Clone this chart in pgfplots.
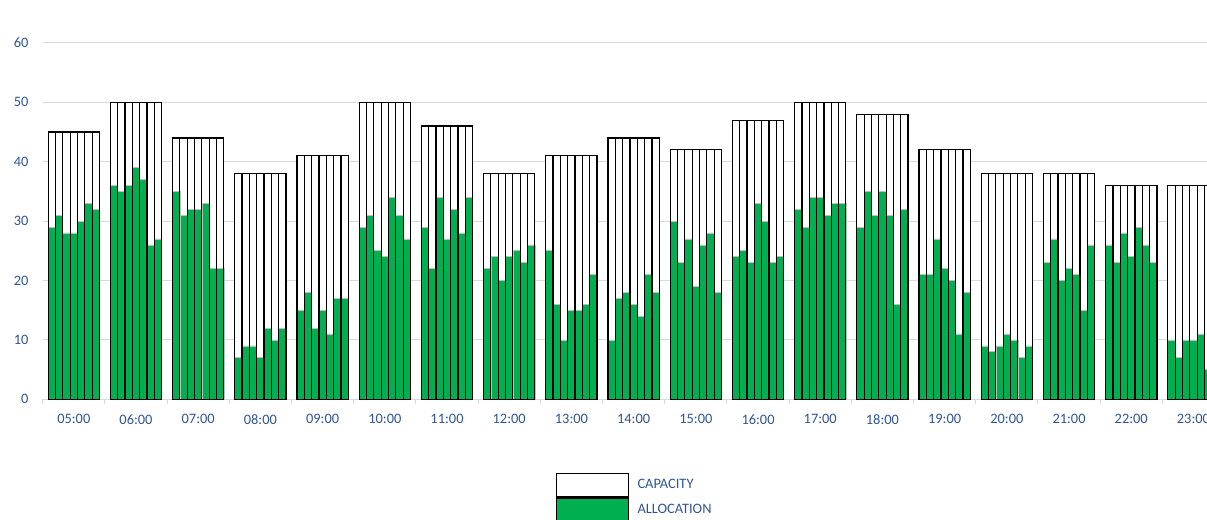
\documentclass[border=0pt]{standalone}
\usepackage{fontspec}
\setmainfont{Carlito}
\usepackage{pgfplots}
\pgfplotsset{compat=1.18}
\usepackage{pgfplotstable}
\definecolor{allocgreen}{HTML}{00B050}
\definecolor{gridgrey}{HTML}{D9D9D9}
\definecolor{labelblue}{HTML}{2F5597}

\pgfplotstableread{
h  cap a0 a1 a2 a3 a4 a5 a6
0  45  29 31 28 28 30 33 32
1  50  36 35 36 39 37 26 27
2  44  35 31 32 32 33 22 22
3  38  7  9  9  7  12 10 12
4  41  15 18 12 15 11 17 17
5  50  29 31 25 24 34 31 27
6  46  29 22 34 27 32 28 34
7  38  22 24 20 24 25 23 26
8  41  25 16 10 15 15 16 21
9  44  10 17 18 16 14 21 18
10 42  30 23 27 19 26 28 18
11 47  24 25 23 33 30 23 24
12 50  32 29 34 34 31 33 33
13 48  29 35 31 35 31 16 32
14 42  21 21 27 22 20 11 18
15 38  9  8  9  11 10 7  9
16 38  23 27 20 22 21 15 26
17 36  26 23 28 24 29 26 23
18 36  10 7  10 10 11 5  8
}\datatable

\begin{document}
\begin{tikzpicture}
\begin{axis}[
  at={(0pt,0pt)}, anchor=south west,
  scale only axis, width=873.225pt, height=267.3pt,
  xmin=-0.5, xmax=18.218, ymin=0, ymax=60,
  axis x line*=bottom, axis y line*=left,
  x axis line style={draw=gridgrey, line width=0.75pt},
  y axis line style={draw=none},
  ytick={0,10,...,60},
  ymajorgrids, grid style={draw=gridgrey, line width=0.75pt},
  xtick={0,...,18},
  xticklabels={05:00,06:00,07:00,08:00,09:00,10:00,11:00,12:00,13:00,14:00,15:00,16:00,17:00,18:00,19:00,20:00,21:00,22:00,23:00},
  minor xtick={-0.5,0.5,...,18.5},
  major tick length=0pt, minor tick length=3.5pt,
  tick align=outside,
  minor tick style={draw=gridgrey, line width=0.75pt},
  tick label style={font=\fontsize{10.8}{13}\selectfont, text=labelblue},
  /pgf/number format/assume math mode=true,
  xticklabel style={anchor=north, inner sep=0pt, yshift=-11.2pt},
  yticklabel style={anchor=east, inner sep=0pt, xshift=-10.5pt},
  legend image code/.code={\draw[#1] (0pt,-8.75pt) rectangle (54pt,8.75pt);},
  legend style={at={(0.4406,-0.2059)}, anchor=north west, draw=none, fill=none,
    inner sep=0pt, outer sep=0pt, row sep=0pt, column sep=6.2pt,
    font=\fontsize{10.8}{13}\selectfont, text=labelblue,
    nodes={inner sep=0pt, anchor=west}},
  legend cell align=left,
]
\pgfplotsinvokeforeach{0,...,6}{
  \addplot[ybar, bar width=0.117857, bar shift=0pt, fill=white, draw=black, line width=0.9pt, forget plot]
    table[x expr=\thisrow{h}+(#1-3)*0.117857, y=cap]{\datatable};
}
\pgfplotsinvokeforeach{0,...,6}{
  \addplot[ybar, bar width=0.117857, bar shift=0pt, fill=allocgreen, draw=gray!50, line width=0.5pt, forget plot]
    table[x expr=\thisrow{h}+(#1-3)*0.117857, y=a#1]{\datatable};
}
\pgfplotsinvokeforeach{0,...,6}{
  \addplot[ybar, bar width=0.117857, bar shift=0pt, fill=none, draw=black, line width=0.9pt, forget plot]
    table[x expr=\thisrow{h}+(#1-3)*0.117857, y=cap]{\datatable};
}
\addlegendimage{fill=white, draw=black, line width=1.2pt}
\addlegendentry{CAPACITY}
\addlegendimage{fill=allocgreen, draw=black, line width=1.2pt}
\addlegendentry{ALLOCATION}
\end{axis}
\pgfresetboundingbox
\path[use as bounding box] (-32.025pt,-90.525pt) rectangle (873.225pt,299.475pt);
\end{tikzpicture}
\end{document}
